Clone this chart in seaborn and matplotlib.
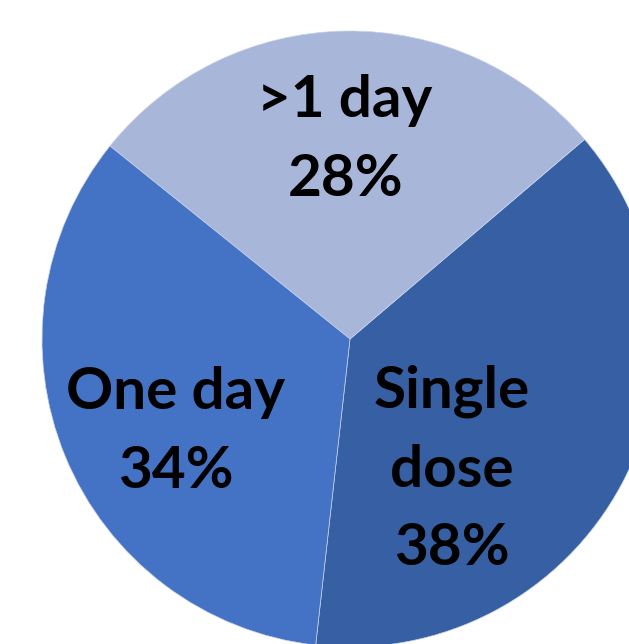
import seaborn as sns
import matplotlib.pyplot as plt

# data
labels = ['Single\ndose', '>1 day', 'One day']
shares = [38, 28, 34]
colors = ['#375FA4', '#A8B6DA', '#4472C4']

# where each label sits (data coords, pie radius = 1)
label_pos = [(0.331, -0.425), (-0.016, 0.646), (-0.565, -0.302)]

sns.set_theme(style='white')
plt.rcParams['font.family'] = ['Lato', 'DejaVu Sans']

fig = plt.figure(figsize=(6.29, 6.44), dpi=100)
ax = fig.add_axes([0, 0, 1, 1])
ax.pie(shares, colors=colors, startangle=-96.4, counterclock=True,
       radius=1, wedgeprops=dict(linewidth=0.5, edgecolor='#C9D3EA'))

for lab, val, (x, y) in zip(labels, shares, label_pos):
    ax.text(x, y, f'{lab}\n{val}%', ha='center', va='center',
            fontsize=42, fontweight='bold', color='black', linespacing=1.6)

ax.set_aspect('auto')
ax.set_xlim(-350 / 308, 279 / 308)
ax.set_ylim(-305 / 308, 339 / 308)
ax.axis('off')

plt.savefig('out.png', dpi=100)
